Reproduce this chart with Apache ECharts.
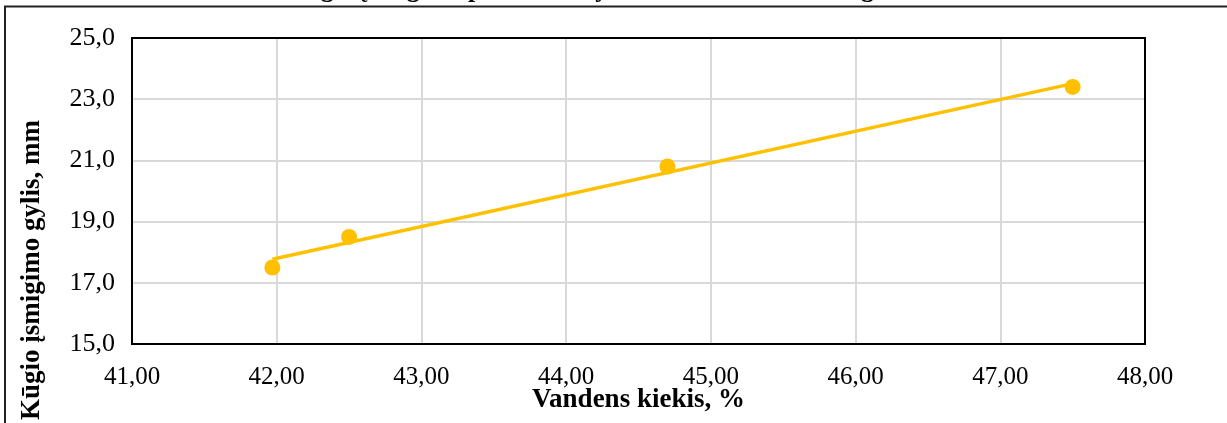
<!DOCTYPE html>
<html>
<head>
<meta charset="utf-8">
<script src="https://cdn.jsdelivr.net/npm/echarts@6/dist/echarts.min.js"></script>
<style>
  html, body { margin: 0; padding: 0; background: #fff; }
  #chart { width: 1227px; height: 423px; }
</style>
</head>
<body>
<div id="chart"></div>
<script>
// Measured points: water content (%) vs. cone penetration depth (mm)
const waterContent = [41.97, 42.5, 44.7, 47.5];
const penetration = [17.5, 18.5, 20.8, 23.4];
// Linear trend line end points
const trendX = [41.97, 47.5];
const trendY = [17.77, 23.51];

const chartTitle = 'Kūgio įsmigimo priklausomybė nuo vandens kiekio grunte';
const xTitle = 'Vandens kiekis, %';
const yTitle = 'Kūgio įsmigimo gylis, mm';

const serif = 'Liberation Serif';
const gold = '#FFC000';

const chart = echarts.init(document.getElementById('chart'), null, { renderer: 'canvas' });

chart.setOption({
  animation: false,
  backgroundColor: '#fff',
  grid: {
    left: 132, right: 82, top: 38, bottom: 79,
    show: false,
    outerBoundsMode: 'none'
  },
  xAxis: {
    type: 'value', min: 41, max: 48, interval: 1,
    name: xTitle, nameLocation: 'middle', nameGap: 43,
    nameMoveOverlap: false,
    nameTextStyle: { fontFamily: serif, fontSize: 27, fontWeight: 'bold', color: '#000' },
    axisLine: { show: false },
    axisTick: { show: false },
    axisLabel: {
      fontFamily: serif, fontSize: 25, color: '#000', margin: 21,
      formatter: v => v.toFixed(2).replace('.', ',')
    },
    splitLine: { show: true, lineStyle: { color: '#d9d9d9', width: 2 } }
  },
  yAxis: {
    type: 'value', min: 15, max: 25, interval: 2,
    axisLine: { show: false },
    axisTick: { show: false },
    axisLabel: {
      fontFamily: serif, fontSize: 26, color: '#000', margin: 17,
      padding: [8, 0, 0, 0],
      formatter: v => v.toFixed(1).replace('.', ',')
    },
    splitLine: { show: true, lineStyle: { color: '#d9d9d9', width: 2 } }
  },
  graphic: [
    {
      type: 'rect', silent: true, z: 0,
      shape: { x: 5, y: 6.5, width: 1400, height: 600 },
      style: { fill: 'none', stroke: '#222', lineWidth: 2 }
    },
    {
      // plot frame drawn on top of the split lines
      type: 'rect', silent: true, z: 5,
      shape: { x: 132, y: 38, width: 1013, height: 306 },
      style: { fill: 'none', stroke: '#000', lineWidth: 2 }
    },
    {
      type: 'text', silent: true, z: 10,
      x: 286, y: -10,
      style: {
        text: chartTitle, fontFamily: serif, fontSize: 26, fontWeight: 'bold',
        fill: '#000', textAlign: 'left', textVerticalAlign: 'middle'
      }
    },
    {
      type: 'text', silent: true, z: 10,
      x: 32, y: 270, rotation: Math.PI / 2,
      style: {
        text: yTitle, fontFamily: serif, fontSize: 27, fontWeight: 'bold',
        fill: '#000', textAlign: 'center', textVerticalAlign: 'middle'
      }
    }
  ],
  series: [
    {
      type: 'line',
      data: trendX.map((x, i) => [x, trendY[i]]),
      showSymbol: false,
      lineStyle: { color: gold, width: 3.5 },
      z: 2
    },
    {
      type: 'scatter',
      data: waterContent.map((x, i) => [x, penetration[i]]),
      symbol: 'circle', symbolSize: 16,
      itemStyle: { color: gold, opacity: 1 },
      z: 3
    }
  ]
});
</script>
</body>
</html>
